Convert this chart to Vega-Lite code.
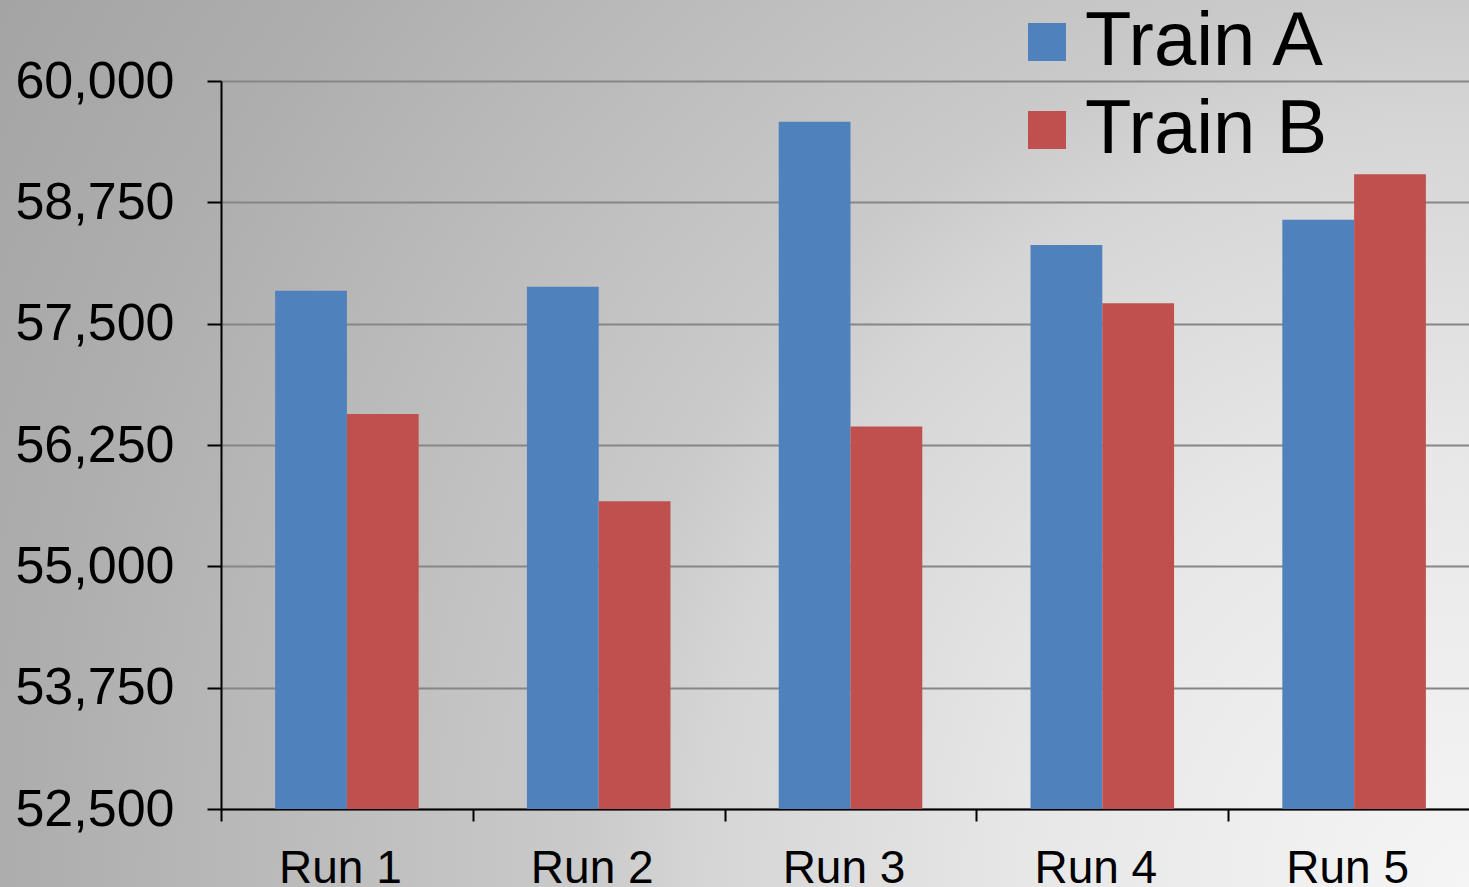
{
  "$schema": "https://vega.github.io/schema/vega-lite/v6.json",
  "width": 1469,
  "height": 887,
  "padding": 0,
  "autosize": {"type": "none"},
  "background": "#c4c4c4",
  "view": {
    "stroke": null,
    "fill": {
      "gradient": "radial",
      "x1": 1, "y1": 0.802, "r1": 0,
      "x2": 1, "y2": 0.802, "r2": 1.168,
      "stops": [
        {"offset": 0, "color": "#f5f5f5"},
        {"offset": 0.258, "color": "#e7e7e7"},
        {"offset": 0.449, "color": "#d5d5d5"},
        {"offset": 0.517, "color": "#cacaca"},
        {"offset": 0.667, "color": "#bdbdbd"},
        {"offset": 0.837, "color": "#aeaeae"},
        {"offset": 1, "color": "#a4a4a4"}
      ]
    }
  },
  "config": {"font": "Liberation Sans"},
  "data": {
    "values": [
      {"run": "Run 1", "train": "Train A", "value": 57840},
      {"run": "Run 1", "train": "Train B", "value": 56570},
      {"run": "Run 2", "train": "Train A", "value": 57880},
      {"run": "Run 2", "train": "Train B", "value": 55670},
      {"run": "Run 3", "train": "Train A", "value": 59580},
      {"run": "Run 3", "train": "Train B", "value": 56440},
      {"run": "Run 4", "train": "Train A", "value": 58310},
      {"run": "Run 4", "train": "Train B", "value": 57710},
      {"run": "Run 5", "train": "Train A", "value": 58570},
      {"run": "Run 5", "train": "Train B", "value": 59040}
    ]
  },
  "mark": {"type": "bar"},
  "encoding": {
    "x": {
      "field": "run",
      "type": "nominal",
      "sort": null,
      "scale": {"range": [221, 1480], "paddingInner": 0, "paddingOuter": 0},
      "axis": {
        "orient": "bottom",
        "offset": -78,
        "title": null,
        "labelAngle": 0,
        "labelFontSize": 46,
        "labelColor": "black",
        "labelBaseline": "alphabetic",
        "labelPadding": 61,
        "labelOffset": -7,
        "tickSize": 12,
        "tickBand": "extent",
        "tickColor": "black",
        "tickWidth": 2,
        "domainColor": "black",
        "domainWidth": 2
      }
    },
    "xOffset": {
      "field": "train",
      "type": "nominal",
      "scale": {"paddingInner": 0, "paddingOuter": 0.754}
    },
    "y": {
      "field": "value",
      "type": "quantitative",
      "scale": {"domain": [52500, 60000], "range": [809, 81], "zero": false, "nice": false},
      "axis": {
        "values": [52500, 53750, 55000, 56250, 57500, 58750, 60000],
        "format": ",.0f",
        "offset": -221,
        "title": null,
        "labelFontSize": 52,
        "labelColor": "black",
        "labelPadding": 33,
        "tickSize": 14,
        "tickColor": "black",
        "tickWidth": 2,
        "domainColor": "black",
        "domainWidth": 2,
        "grid": true,
        "gridColor": "#868686",
        "gridWidth": 2
      }
    },
    "y2": {"datum": 52500},
    "color": {
      "field": "train",
      "type": "nominal",
      "scale": {"domain": ["Train A", "Train B"], "range": ["#4F81BD", "#C0504D"]},
      "legend": {
        "orient": "none",
        "legendX": 1009,
        "legendY": 4,
        "title": null,
        "padding": 0,
        "symbolType": "square",
        "symbolSize": 1444,
        "symbolStrokeWidth": 0,
        "symbolOpacity": 1,
        "labelFontSize": 76,
        "labelColor": "black",
        "labelOffset": 0,
        "labelLimit": 0,
        "rowPadding": 12
      }
    }
  }
}
